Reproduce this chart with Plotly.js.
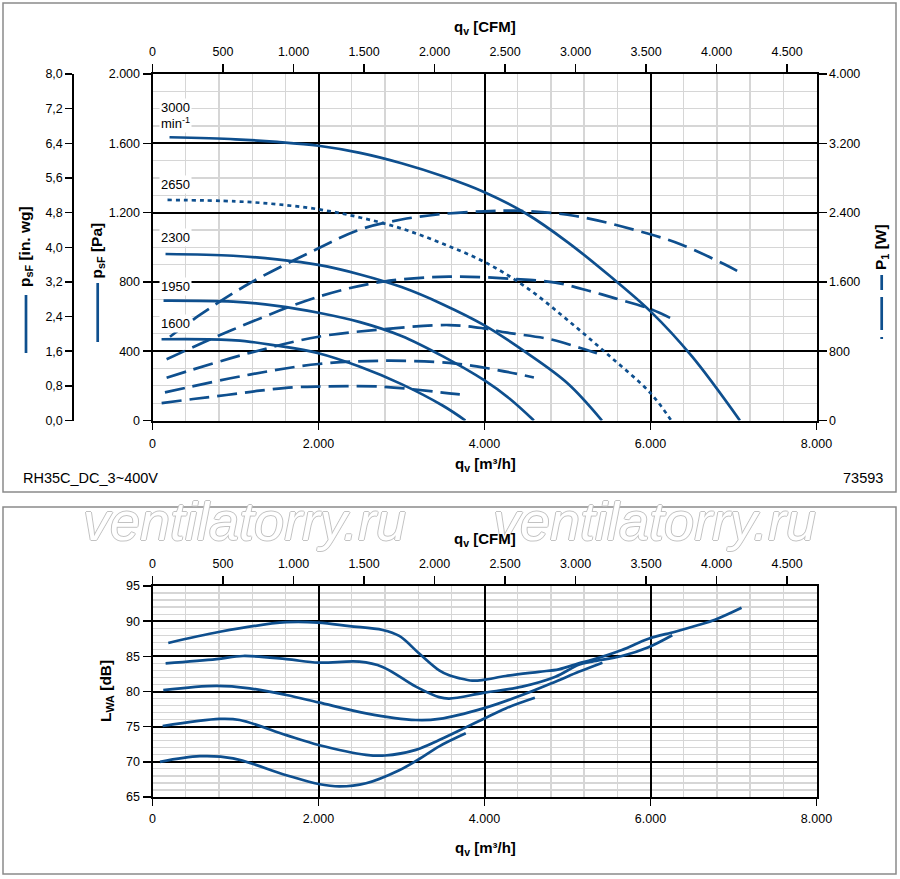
<!DOCTYPE html>
<html><head><meta charset="utf-8">
<script src="https://cdn.plot.ly/plotly-3.0.1.min.js"></script>
<style>html,body{margin:0;padding:0;background:#fff}#chart{width:900px;height:879px}</style>
</head><body><div id="chart"></div>
<script>
// ---------- data ----------
const speeds = ['3000', '2650', '2300', '1950', '1600'];

// static pressure p_sF [Pa] vs q_v [m3/h]
const pq3000 = [205, 1000, 1500, 2000, 2500, 3000, 3500, 4000, 4500, 5000, 5500, 6000, 6500, 7077];
const ps3000 = [1635, 1623, 1608, 1586, 1545, 1485, 1410, 1318, 1195, 1030, 838, 630, 370, 0];
const pq2650 = [181, 1000, 1500, 2000, 2500, 3000, 3500, 4000, 4500, 5000, 5500, 6000, 6250];
const ps2650 = [1273, 1265, 1248, 1219, 1172, 1108, 1020, 915, 770, 580, 375, 158, 0];
const pq2300 = [157, 971, 1500, 2000, 2500, 3000, 3500, 4000, 4500, 5000, 5415];
const ps2300 = [961, 951, 930, 898, 843, 770, 670, 549, 393, 215, 0];
const pq1950 = [133, 971, 1500, 2000, 2500, 3000, 3500, 4000, 4300, 4595];
const ps1950 = [692, 686, 662, 622, 568, 488, 370, 231, 127, 0];
const pq1600 = [109, 1000, 1500, 2000, 2500, 3000, 3500, 3770];
const ps1600 = [469, 463, 432, 388, 310, 210, 85, 0];

// power input P1 [W] vs q_v [m3/h]
const wq3000 = [210, 571, 1171, 2000, 2500, 3000, 3500, 4000, 4375, 5095, 5976, 6376, 6897, 7097];
const pw3000 = [967, 1218, 1584, 1988, 2205, 2320, 2385, 2415, 2422, 2361, 2155, 2030, 1800, 1699];
const wq2650 = [170, 971, 2000, 2772, 3574, 4375, 4855, 5255, 5576, 5976, 6264];
const pw2650 = [706, 1050, 1429, 1602, 1660, 1633, 1591, 1498, 1410, 1295, 1172];
const wq2300 = [170, 1171, 2000, 2772, 3574, 3990, 4274, 4795, 5155, 5415];
const pw2300 = [494, 780, 967, 1052, 1102, 1064, 1014, 937, 837, 756];
const wq1950 = [150, 1171, 2000, 2772, 3574, 4054, 4595];
const pw1950 = [325, 530, 652, 690, 665, 600, 497];
const wq1600 = [110, 490, 891, 1291, 1691, 2000, 2772, 3574, 3774];
const pw1600 = [200, 248, 294, 344, 383, 392, 390, 314, 294];

// sound power L_WA [dB] vs q_v [m3/h]
const lq3000 = [190, 811, 1612, 2000, 2372, 2772, 2973, 3213, 3454, 3574, 3694, 3853, 3986, 4255, 4655, 4895, 5135, 5295, 5655, 5976, 6297, 6577, 6777, 7097];
const lw3000 = [86.9, 88.5, 89.85, 89.8, 89.3, 88.75, 87.9, 85.4, 83.0, 82.3, 81.9, 81.55, 81.65, 82.2, 82.8, 83.15, 84.0, 84.5, 85.9, 87.5, 88.5, 89.45, 90.2, 91.9];
const lq2650 = [158, 771, 1091, 1612, 2000, 2492, 2772, 3173, 3454, 3574, 3986, 4454, 4855, 5135, 5295, 5655, 5976, 6262];
const lw2650 = [84.0, 84.6, 85.05, 84.6, 84.1, 84.24, 83.5, 80.7, 79.2, 79.0, 79.8, 80.7, 82.1, 83.8, 84.25, 85.05, 86.3, 88.0];
const lq2300 = [130, 771, 1171, 1612, 2000, 2573, 3173, 3454, 3986, 4454, 4855, 5135, 5421];
const lw2300 = [80.2, 80.8, 80.45, 79.5, 78.45, 76.9, 75.95, 76.1, 77.6, 79.5, 81.4, 82.8, 84.1];
const lq1950 = [122, 811, 1051, 1612, 2000, 2573, 2800, 3173, 3454, 3774, 3986, 4255, 4607];
const lw1950 = [75.1, 76.1, 75.95, 73.8, 72.4, 71.0, 70.9, 71.7, 73.1, 74.9, 76.1, 77.6, 79.1];
const lq1600 = [90, 571, 971, 1612, 2000, 2252, 2573, 2973, 3213, 3454, 3774];
const lw1600 = [70.0, 70.8, 70.5, 68.1, 66.85, 66.5, 66.95, 68.8, 70.4, 72.2, 74.05];

// ticks
const qTicks = [0, 2000, 4000, 6000, 8000];
const cfmTicks = [0, 500, 1000, 1500, 2000, 2500, 3000, 3500, 4000, 4500];
const paTicks = [0, 400, 800, 1200, 1600, 2000];
const wTicks = [0, 800, 1600, 2400, 3200, 4000];
const inwgTicks = [0, 0.8, 1.6, 2.4, 3.2, 4.0, 4.8, 5.6, 6.4, 7.2, 8.0];
const inwgLabels = ['0,0', '0,8', '1,6', '2,4', '3,2', '4,0', '4,8', '5,6', '6,4', '7,2', '8,0'];
const dbTicks = [65, 70, 75, 80, 85, 90, 95];
const M3H_PER_CFM = 1.699;

// ---------- layout helpers ----------
const W = 900, H = 879;
const px = v => v / W;
const py = v => 1 - v / H;
const blue = '#0e4f8e';
const FONT = 'Liberation Sans, Arial, Helvetica, sans-serif';
const xDom = [px(152.5), px(816.5)];
const topY = [py(420.5), py(74)];
const botY = [py(797), py(586)];

function ax(extra) {
  return Object.assign({
    showline: true, linecolor: '#000', linewidth: 2,
    ticks: 'outside', tickcolor: '#000', tickwidth: 1.5,
    zeroline: false, showgrid: false, fixedrange: true,
    tickmode: 'array', separatethousands: true,
    tickfont: {family: FONT, size: 12.5, color: '#000'}
  }, extra);
}
const minorQ = {tickmode: 'linear', tick0: 0, dtick: 400, showgrid: true, gridcolor: '#d6d6d6', gridwidth: 1.2, ticks: ''};

function line(x, y, xa, ya, dash) {
  return {type: 'scatter', mode: 'lines', x: x, y: y, xaxis: xa, yaxis: ya,
    line: {color: blue, width: 2.7, shape: 'spline', smoothing: 1, dash: dash || 'solid'},
    hoverinfo: 'skip', showlegend: false};
}
const DASH = '20px,8px';
const DOT = '4px,4px';

const traces = [
  line(pq3000, ps3000, 'x', 'y'),
  line(pq2650, ps2650, 'x', 'y', DOT),
  line(pq2300, ps2300, 'x', 'y'),
  line(pq1950, ps1950, 'x', 'y'),
  line(pq1600, ps1600, 'x', 'y'),
  line(wq3000, pw3000, 'x', 'y2', DASH),
  line(wq2650, pw2650, 'x', 'y2', DASH),
  line(wq2300, pw2300, 'x', 'y2', DASH),
  line(wq1950, pw1950, 'x', 'y2', DASH),
  line(wq1600, pw1600, 'x', 'y2', DASH),
  line(lq3000, lw3000, 'x3', 'y4'),
  line(lq2650, lw2650, 'x3', 'y4'),
  line(lq2300, lw2300, 'x3', 'y4'),
  line(lq1950, lw1950, 'x3', 'y4'),
  line(lq1600, lw1600, 'x3', 'y4'),
  // empty traces so the unit-conversion axes get a subplot
  {type: 'scatter', x: [], y: [], xaxis: 'x2', yaxis: 'y', showlegend: false, hoverinfo: 'skip'},
  {type: 'scatter', x: [], y: [], xaxis: 'x', yaxis: 'y3', showlegend: false, hoverinfo: 'skip'},
  {type: 'scatter', x: [], y: [], xaxis: 'x4', yaxis: 'y4', showlegend: false, hoverinfo: 'skip'}
];

function pAnn(text, x, y, opts) {
  return Object.assign({xref: 'paper', yref: 'paper', x: px(x), y: py(y), text: text, showarrow: false,
    xanchor: 'center', yanchor: 'middle', font: {family: FONT, size: 15, color: '#000'}}, opts || {});
}
const wmShadow = '#c2c2c2 1px 0 0, #c2c2c2 -1px 0 0, #c2c2c2 0 1px 0, #c2c2c2 0 -1px 0';
const wmFont = {family: FONT, size: 54, color: '#ffffff', style: 'italic', shadow: wmShadow};

const rpmY = [1808, 1363, 1057, 776, 561];
const annotations = [
  pAnn('ventilatorry.ru', 245, 521, {font: wmFont}),
  pAnn('ventilatorry.ru', 654, 521, {font: wmFont}),
  pAnn('<b>q<sub>v</sub> [CFM]</b>', 485, 27),
  pAnn('<b>q<sub>v</sub> [m³/h]</b>', 485, 464),
  pAnn('<b>q<sub>v</sub> [CFM]</b>', 485, 539),
  pAnn('<b>q<sub>v</sub> [m³/h]</b>', 485, 848),
  pAnn('<b>p<sub>sF</sub> [in. wg]</b>', 25, 247, {textangle: -90, font: {family: FONT, size: 15.5, color: '#000'}}),
  pAnn('<b>p<sub>sF</sub> [Pa]</b>', 96.5, 251, {textangle: -90, font: {family: FONT, size: 15.5, color: '#000'}}),
  pAnn('<b>P<sub>1</sub> [W]</b>', 881, 247, {textangle: -90, font: {family: FONT, size: 15.5, color: '#000'}}),
  pAnn('<b>L<sub>WA</sub> [dB]</b>', 106, 691, {textangle: -90, font: {family: FONT, size: 15.5, color: '#000'}}),
  pAnn('RH35C_DC_3~400V', 21, 478, {xanchor: 'left', font: {family: FONT, size: 14.5, color: '#000'}}),
  pAnn('73593', 885, 478, {xanchor: 'right', font: {family: FONT, size: 14.5, color: '#000'}})
];
speeds.forEach((s, i) => {
  annotations.push({xref: 'x', yref: 'y', x: 80, y: rpmY[i], text: s, showarrow: false,
    xanchor: 'left', yanchor: 'middle', bgcolor: '#fff', borderpad: 1,
    font: {family: FONT, size: 13, color: '#000'}});
});
annotations.push({xref: 'x', yref: 'y', x: 80, y: 1719, text: 'min<sup>-1</sup>', showarrow: false,
  xanchor: 'left', yanchor: 'middle', bgcolor: '#fff', borderpad: 1,
  font: {family: FONT, size: 13, color: '#000'}});

const shapes = [
  {type: 'rect', xref: 'paper', yref: 'paper', x0: px(3), x1: px(896), y0: py(3), y1: py(492), line: {color: '#8a8a8a', width: 1.5}},
  {type: 'rect', xref: 'paper', yref: 'paper', x0: px(3), x1: px(896), y0: py(507), y1: py(874), line: {color: '#8a8a8a', width: 1.5}},
  {type: 'line', xref: 'paper', yref: 'paper', x0: px(26), x1: px(26), y0: py(295), y1: py(353), line: {color: blue, width: 2.7}},
  {type: 'line', xref: 'paper', yref: 'paper', x0: px(97.7), x1: px(97.7), y0: py(283), y1: py(342), line: {color: blue, width: 2.7}},
  {type: 'line', xref: 'paper', yref: 'paper', x0: px(881.7), x1: px(881.7), y0: py(275), y1: py(339), line: {color: blue, width: 2.7, dash: '15px,7px,33px,7px'}}
];

const layout = {
  width: W, height: H,
  margin: {l: 0, r: 0, t: 0, b: 0, autoexpand: false},
  paper_bgcolor: '#fff', plot_bgcolor: '#fff',
  separators: ',.',
  showlegend: false, hovermode: false,
  font: {family: FONT, color: '#000'},
  xaxis: ax({domain: xDom, anchor: 'y', range: [0, 8000], tickvals: qTicks, ticklen: 7, ticklabelstandoff: 3,
    showgrid: true, gridcolor: '#000', gridwidth: 2, minor: minorQ}),
  xaxis2: ax({overlaying: 'x', side: 'top', anchor: 'y', range: [0, 8000 / M3H_PER_CFM], tickvals: cfmTicks, ticklen: 8, ticklabelstandoff: 3}),
  yaxis: ax({domain: topY, anchor: 'x', range: [0, 2000], tickvals: paTicks, ticklen: 8,
    showgrid: true, gridcolor: '#000', gridwidth: 2,
    minor: {tickmode: 'linear', tick0: 0, dtick: 100, showgrid: true, gridcolor: '#d6d6d6', gridwidth: 1.2, ticks: ''}}),
  yaxis2: ax({overlaying: 'y', side: 'right', anchor: 'x', range: [0, 4000], tickvals: wTicks, ticklen: 8}),
  yaxis3: ax({overlaying: 'y', anchor: 'free', position: px(73.3), side: 'left', range: [0, 8],
    tickvals: inwgTicks, ticktext: inwgLabels, ticklen: 7}),
  xaxis3: ax({domain: xDom, anchor: 'y4', range: [0, 8000], tickvals: qTicks, ticklen: 7, ticklabelstandoff: 2,
    showgrid: true, gridcolor: '#000', gridwidth: 2, minor: minorQ}),
  xaxis4: ax({overlaying: 'x3', side: 'top', anchor: 'y4', range: [0, 8000 / M3H_PER_CFM], tickvals: cfmTicks, ticklen: 8, ticklabelstandoff: 3}),
  yaxis4: ax({domain: botY, anchor: 'x3', range: [65, 95], tickvals: dbTicks, ticklen: 8, mirror: true,
    showgrid: true, gridcolor: '#000', gridwidth: 2,
    minor: {tickmode: 'linear', tick0: 65, dtick: 1, showgrid: true, gridcolor: '#d6d6d6', gridwidth: 1.2, ticks: ''}}),
  annotations: annotations,
  shapes: shapes
};

Plotly.newPlot('chart', traces, layout, {staticPlot: true, displayModeBar: false});
</script>
</body></html>
